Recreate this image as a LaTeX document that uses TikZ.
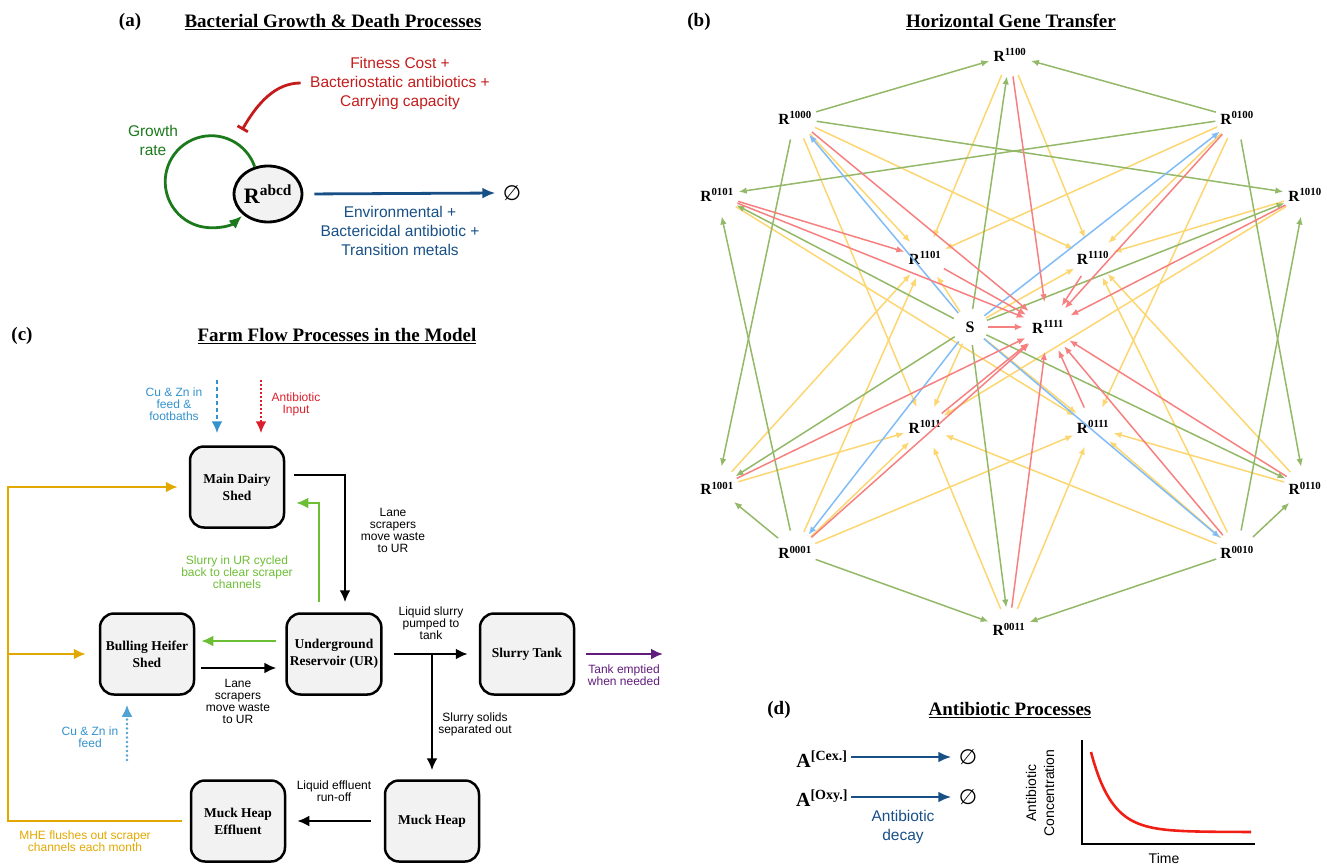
\documentclass[tikz,border=0pt]{standalone}
\usepackage{fontspec}
\setmainfont{Liberation Serif}
\setsansfont{Liberation Sans}
\newfontfamily\esetfont{DejaVu Sans}
\usetikzlibrary{arrows.meta,shapes.geometric}

\definecolor{boxgray}{RGB}{242,242,242}
\definecolor{inhred}{RGB}{196,28,28}
\definecolor{growgreen}{RGB}{28,122,28}
\definecolor{deathblue}{RGB}{24,80,134}
\definecolor{hblue}{RGB}{128,188,245}
\definecolor{hgreen}{RGB}{146,184,104}
\definecolor{hyellow}{RGB}{252,214,112}
\definecolor{hred}{RGB}{246,128,128}
\definecolor{cublue}{RGB}{52,146,204}
\definecolor{abred}{RGB}{220,30,45}
\definecolor{cgreen}{RGB}{108,190,52}
\definecolor{cgold}{RGB}{226,168,0}
\definecolor{cpurple}{RGB}{96,28,124}
\definecolor{decayred}{RGB}{240,30,20}

\newcommand{\geno}[1]{R\textsuperscript{#1}}

\begin{document}
\begin{tikzpicture}[x=1pt,y=1pt,node distance=187pt]
\tikzstyle{ttl}=[font=\fontsize{19}{22}\selectfont\bfseries]
\tikzstyle{box}=[rectangle, rounded corners=14pt, draw=black, line width=2.5pt, fill=boxgray, minimum width=94pt, minimum height=81pt, align=center, font=\fontsize{13.5}{17}\selectfont\bfseries]
\tikzstyle{lbl}=[align=center, font=\sffamily\fontsize{12}{12}\selectfont]
\tikzstyle{big}=[align=center, font=\sffamily\fontsize{15.5}{19}\selectfont]
\tikzstyle{eset}=[font=\esetfont\fontsize{21}{21}\selectfont]
\tikzstyle{gene}=[circle, inner sep=3pt, font=\fontsize{15.5}{15.5}\selectfont\bfseries]
\tikzstyle{hgt}=[line width=1.5pt, -{Latex[length=8pt,width=6.5pt]}]
\tikzstyle{flow}=[line width=2.6pt, -{Latex[length=12pt,width=11pt]}]
\tikzstyle{death}=[deathblue, line width=2.8pt, -{Latex[length=13pt,width=11pt]}]
\useasboundingbox (0,0) rectangle (1327,-864);

% (a)
\node (lbla) [ttl] at (130,-22) {(a)};
\node (ttla) [ttl] at (333,-22) {\underline{Bacterial Growth \& Death Processes}};
\node (rab) [ellipse, draw=black, line width=2.8pt, fill=boxgray, minimum width=67pt, minimum height=56pt, inner sep=0pt] at (268,-194) {\fontsize{22}{22}\selectfont\bfseries \geno{abcd}};
\node (costs) [big, inhred] at (400,-83) {Fitness Cost +\\Bacteriostatic antibiotics +\\Carrying capacity};
\node (growlbl) [big, growgreen] at (153,-140) {Growth\\rate};
\node (e1) [eset] at (512,-193) {∅};
\node (deathlbl) [big, deathblue] at (400,-231) {Environmental +\\Bactericidal antibiotic +\\Transition metals};
\draw[growgreen, line width=2.8pt, -{Latex[length=13pt,width=11pt]}] (rab.116) arc[start angle=19, end angle=312, radius=46];
\coordinate (inhib) at (242,-130);
\draw[inhred, line width=2.8pt, -{Bar[width=12pt]}, shorten <=6pt] (costs.west) to[out=180, in=60] (inhib);
\draw[death, shorten <=11pt, shorten >=4pt] (rab.east) -- (e1.west);

% (b)
\node (lblb) [ttl] at (699,-22) {(b)};
\node (ttlb) [ttl] at (1011,-22) {\underline{Horizontal Gene Transfer}};
\node (r1100) [gene] at (1010,-55) {\geno{1100}};
\node (r1000) [gene] at (795,-118) {\geno{1000}};
\node (r0100) [gene] at (1237,-118) {\geno{0100}};
\node (r0101) [gene] at (717,-195) {\geno{0101}};
\node (r1010) [gene] at (1305,-195) {\geno{1010}};
\node (r1101) [gene] at (925,-258) {\geno{1101}};
\node (r1110) [gene] at (1093,-258) {\geno{1110}};
\node (s) [circle, minimum size=36pt, font=\fontsize{16}{16}\selectfont\bfseries] at (970,-327) {S};
\node (r1111) [gene, inner sep=6pt] at (1048,-327) {\geno{1111}};
\node (r1011) [gene] at (925,-427) {\geno{1011}};
\node (r0111) [gene] at (1093,-427) {\geno{0111}};
\node (r1001) [gene] at (717,-488) {\geno{1001}};
\node (r0110) [gene] at (1305,-488) {\geno{0110}};
\node (r0001) [gene] at (795,-552) {\geno{0001}};
\node (r0010) [gene] at (1237,-552) {\geno{0010}};
\node (r0011) [gene] at (1009,-629) {\geno{0011}};
\foreach \f/\t in {s/r1101, r1000/r1101, r0100/r1101, r0001/r1101, r1100/r1101, r1001/r1101,
  s/r1110, r1000/r1110, r0100/r1110, r0010/r1110, r1100/r1110, r1010/r1110, r0110/r1110,
  s/r1011, r1000/r1011, r0010/r1011, r0001/r1011, r1010/r1011, r1001/r1011, r0011/r1011,
  s/r0111, r0100/r0111, r0010/r0111, r0001/r0111, r0110/r0111, r0101/r0111, r0011/r0111}
  \draw[hgt, hyellow] (\f) -- (\t);
\foreach \f/\t in {s/r1100, r1000/r1100, r0100/r1100, s/r0101, r0100/r0101, r0001/r0101,
  s/r1010, r1000/r1010, r0010/r1010, s/r1001, r1000/r1001, r0001/r1001,
  s/r0110, r0100/r0110, r0010/r0110, s/r0011, r0001/r0011, r0010/r0011}
  \draw[hgt, hgreen] (\f) -- (\t);
\foreach \t in {r1000,r0100,r0010,r0001}
  \draw[hgt, hblue] (s) -- (\t);
\draw[hgt, hred] (r0101) -- (r1101);
\foreach \f in {s,r1000,r0100,r0010,r0001,r1100,r1010,r1001,r0110,r0101,r0011,r1110,r1101,r1011,r0111}
  \draw[hgt, hred] (\f) -- (r1111);

% (c)
\node (lblc) [ttl] at (22,-336) {(c)};
\node (ttlc) [ttl] at (337,-336) {\underline{Farm Flow Processes in the Model}};
\node (mds) [box] at (237,-487) {Main Dairy\\Shed};
\node (bhs) [box] at (147,-654) {Bulling Heifer\\Shed};
\node (ur) [box, right of=bhs] {Underground\\Reservoir (UR)};
\node (st) [box] at (527,-654) {Slurry Tank};
\node (mh) [box] at (432,-821) {Muck Heap};
\node (mhe) [box] at (238,-821) {Muck Heap\\Effluent};
\node (cuin) [lbl, cublue] at (174,-404) {Cu \& Zn in\\feed \&\\footbaths};
\node (abin) [lbl, abred] at (296,-404) {Antibiotic\\Input};
\node (lane1) [lbl] at (393,-530) {Lane\\scrapers\\move waste\\to UR};
\node (cycle) [lbl, cgreen] at (237,-572) {Slurry in UR cycled\\back to clear scraper\\channels};
\node (pump) [lbl] at (431,-623) {Liquid slurry\\pumped to\\tank};
\node (lane2) [lbl] at (238,-701) {Lane\\scrapers\\move waste\\to UR};
\node (emptied) [lbl, cpurple] at (624,-675) {Tank emptied\\when needed};
\node (solids) [lbl] at (475,-724) {Slurry solids\\separated out};
\node (cufeed) [lbl, cublue] at (90,-737) {Cu \& Zn in\\feed};
\node (runoff) [lbl] at (334,-791) {Liquid effluent\\run-off};
\node (flush) [lbl, cgold] at (85,-841) {MHE flushes out scraper\\channels each month};
\coordinate (cutop) at (217,-380);
\coordinate (abtop) at (261,-380);
\coordinate (cubot) at (127,-760);
\coordinate (ybot) at (8,-821);
\coordinate (ymid) at (8,-654);
\coordinate (ytop) at (8,-487);
\coordinate (split) at (ur.east -| mh.north);
\coordinate (tankout) at (663,-654);
\draw[flow, cublue, dash pattern=on 4pt off 3pt, shorten >=12pt] (cutop) -- (cutop |- mds.north);
\draw[flow, abred, dash pattern=on 2pt off 2pt, shorten >=12pt] (abtop) -- (abtop |- mds.north);
\draw[flow, cublue!85, line cap=round, dash pattern=on 0pt off 4.5pt, shorten >=9pt] (cubot) -- (cubot |- bhs.south);
\draw[flow, shorten <=9pt, shorten >=10pt] ([yshift=12pt]mds.east) -| ([xshift=11pt]ur.north);
\draw[flow, cgreen, shorten <=10pt, shorten >=11pt] ([xshift=-15pt]ur.north) |- ([yshift=-16pt]mds.east);
\draw[flow, cgreen, shorten <=9pt, shorten >=6pt] ([yshift=13pt]ur.west) -- ([yshift=13pt]bhs.east);
\draw[flow, shorten <=6pt, shorten >=9pt] ([yshift=-14pt]bhs.east) -- ([yshift=-14pt]ur.west);
\draw[flow, shorten <=11pt, shorten >=11pt] (ur.east) -- (st.west);
\draw[flow, shorten >=9pt] (split) -- (mh.north);
\draw[flow, cpurple, shorten <=11pt] (st.east) -- (tankout);
\draw[flow, shorten <=13pt, shorten >=11pt] (mh.west) -- (mhe.east);
\draw[flow, cgold, shorten <=8pt, shorten >=11pt] (mhe.west) -- (ybot) -- (ytop) -- (mds.west);
\draw[flow, cgold, shorten >=13pt] (ymid) -- (bhs.west);

% (d)
\node (lbld) [ttl] at (779,-710) {(d)};
\node (ttld) [ttl] at (1010,-710) {\underline{Antibiotic Processes}};
\node (acex) at (822,-759) {\fontsize{20}{20}\selectfont\bfseries A\textsuperscript{[Cex.]}};
\node (aoxy) at (822,-798) {\fontsize{20}{20}\selectfont\bfseries A\textsuperscript{[Oxy.]}};
\node (e2) [eset] at (968,-757) {∅};
\node (e3) [eset] at (968,-797) {∅};
\node (decay) [big, deathblue] at (903,-827) {Antibiotic\\decay};
\draw[death, shorten >=4pt] (acex.east |- e2) -- (e2.west);
\draw[death, shorten >=4pt] (aoxy.east |- e3) -- (e3.west);
\node (conc) [big, rotate=90, font=\sffamily\fontsize{14}{18}\selectfont] at (1040,-793) {Antibiotic\\Concentration};
\node (time) [font=\sffamily\fontsize{14}{16}\selectfont] at (1164,-858) {Time};
\draw[line width=2.6pt] (1082,-740) -- (1082,-844) -- (1255,-844);
\draw[decayred, line width=2.6pt] plot[domain=0:160, samples=80, smooth] ({1091+\x}, {-(832-80*exp(-\x/21))});
\end{tikzpicture}
\end{document}
